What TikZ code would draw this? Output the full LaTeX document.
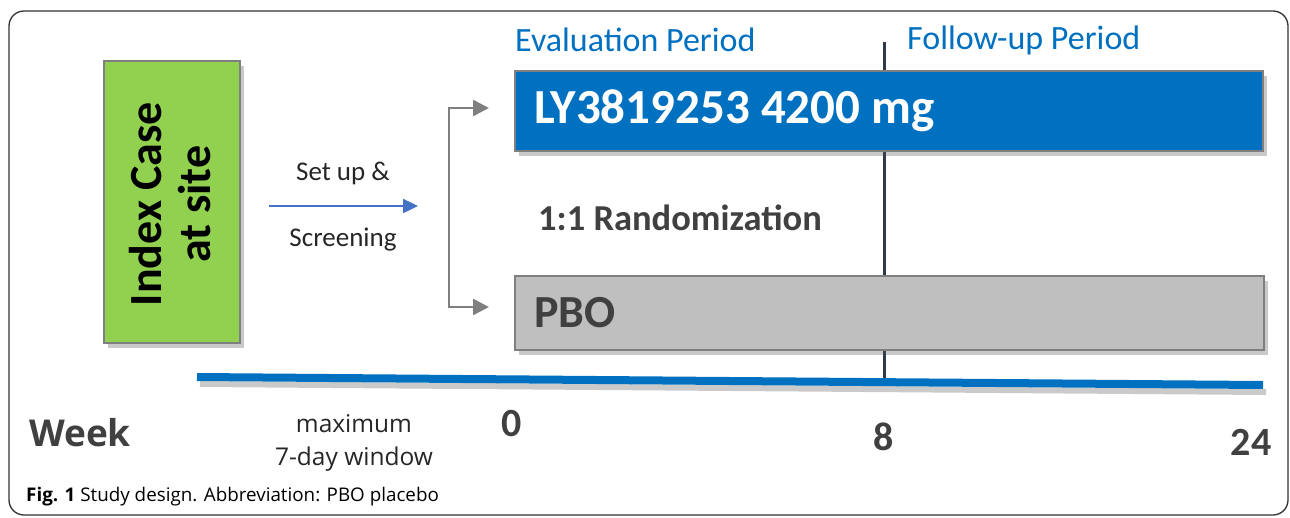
\documentclass[tikz,border=0pt]{standalone}
\usepackage{fontspec}
\setmainfont{Carlito}
\newfontfamily\opensans{Open Sans}
\usetikzlibrary{arrows.meta,shadows,calc}

\definecolor{armblue}{HTML}{0070C0}
\definecolor{idxgreen}{HTML}{92D050}
\definecolor{pbogray}{HTML}{BFBFBF}
\definecolor{edgegray}{HTML}{7F7F7F}
\definecolor{txtgray}{HTML}{404040}
\definecolor{navyline}{HTML}{2E3A4A}
\definecolor{arrowblue}{HTML}{4472C4}
\definecolor{framegray}{HTML}{333333}

\begin{document}
\begin{tikzpicture}[x=1pt,y=-1pt,
  boxshadow/.style={drop shadow={shadow xshift=4pt,shadow yshift=-5pt,opacity=0.3,fill=black!70}},
  boxbase/.style={rectangle,draw=edgegray,line width=2pt,inner sep=0pt,anchor=north west,boxshadow},
  armtext/.style={font=\fontsize{49}{55}\selectfont\bfseries,align=left,inner xsep=20pt},
  period/.style={text=armblue,font=\fontsize{34}{38}\selectfont,inner sep=0pt},
  weeknum/.style={text=txtgray,font=\fontsize{40}{44}\selectfont\bfseries,inner sep=0pt},
  brk/.style={draw=edgegray,line width=2.6pt,{Triangle[length=16pt,width=16pt]}-{Triangle[length=16pt,width=16pt]}},
  setarrow/.style={draw=arrowblue,line width=2.4pt,-{Triangle[length=15pt,width=14pt]}},
  plain/.style={inner sep=0pt},
]
\useasboundingbox (0,0) rectangle (1290,517);

% outer frame
\draw[framegray,line width=1.3pt,rounded corners=15pt] (9,11) rectangle (1288,515);

% week-8 divider behind the arms
\coordinate (divtop) at (884,42);
\coordinate (divbot) at (884,382);
\draw[navyline,line width=3pt] (divtop) -- (divbot);

% timeline with its shadow
\coordinate (tl0) at (197,377);
\coordinate (tl1) at (1263,385);
\draw[black!35,line width=6pt,opacity=0.6] ($(tl0)+(3,7)$) -- ($(tl1)+(3,7)$);
\draw[armblue,line width=8pt] (tl0) -- (tl1);

% index case box
\node[boxbase,fill=idxgreen,minimum width=136pt,minimum height=282pt] (idx) at (103,60) {};
\node[rotate=90,align=center,font=\fontsize{46}{49}\selectfont\bfseries,inner sep=0pt]
  (idxtext) at ([xshift=-2pt,yshift=-2pt]idx.center) {Index Case\\at site};

% treatment arms
\node[boxbase,fill=armblue,minimum width=748pt,minimum height=80pt] (ly) at (514,70) {};
\node[armtext,text=white,anchor=west] (lytext) at (ly.west) {LY3819253 4200 mg};
\node[boxbase,fill=pbogray,minimum width=749pt,minimum height=74pt] (pbo) at (514,275) {};
\node[armtext,text=txtgray,font=\fontsize{46}{50}\selectfont\bfseries,anchor=west] (pbotext) at (pbo.west) {PBO};

% period headings
\node[period,anchor=west] (eval) at (515,40) {Evaluation Period};
\node[period,anchor=west] (follow) at (907,40) {Follow-up Period};

% randomization
\node[plain,text=txtgray,font=\fontsize{36.5}{40}\selectfont\bfseries,anchor=west] (rand) at (538,218) {1:1 Randomization};

% randomization bracket
\coordinate (bt) at (449,108);
\coordinate (bb) at (449,307);
\draw[brk,shorten <=25pt,shorten >=25pt] (bt -| ly.west) -- (bt) -- (bb) -- (bb -| pbo.west);

% set up and screening
\coordinate (s0) at (269,206);
\coordinate (s1) at (418,206);
\draw[setarrow] (s0) -- (s1);
\node[plain,font=\fontsize{27}{30}\selectfont,text=black!85] (setup) at (343,173) {Set up \&};
\node[plain,font=\fontsize{27}{30}\selectfont,text=black!85] (screen) at (343,240) {Screening};

% week axis labels
\node[plain,anchor=west,text=txtgray,font=\opensans\fontsize{37}{40}\selectfont\bfseries] (week) at (29,433) {Week};
\node[plain,align=center,text=black!85,font=\opensans\fontsize{24.5}{33}\selectfont] (window) at (354,443) {maximum\\7-day window};
\node[weeknum] (w0) at (512,424) {0};
\node[weeknum] (w8) at (884,437) {8};
\node[weeknum] (w24) at (1251,442) {24};

% caption
\node[plain,anchor=west,font=\opensans\fontsize{18.8}{21}\selectfont] (cap) at (26,497)
  {\textbf{Fig. 1} Study design. Abbreviation: PBO placebo};
\end{tikzpicture}
\end{document}
